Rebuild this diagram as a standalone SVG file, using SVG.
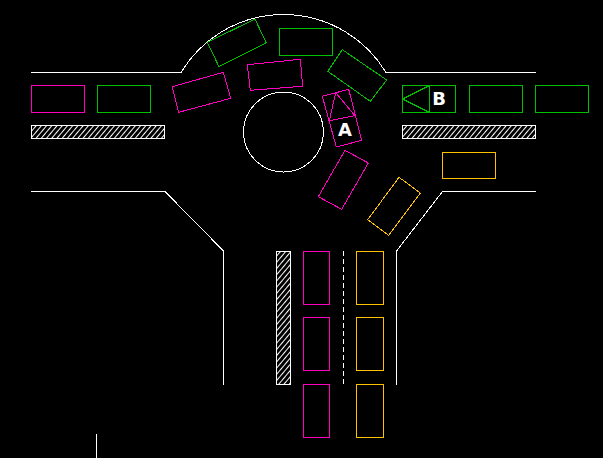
<svg xmlns="http://www.w3.org/2000/svg" width="603" height="458" viewBox="0 0 603 458">
<style>
.road,.m,.g,.o,.h{shape-rendering:crispEdges;stroke-width:1}
.road{fill:none;stroke:#fff}
.m{fill:none;stroke:#ff00c0}
.g{fill:none;stroke:#00c000}
.o{fill:none;stroke:#ffc000}
.h{fill:url(#hatch);stroke:#fff}
.l{font-family:"DejaVu Sans",sans-serif;font-size:18px;font-weight:bold;fill:#fff;text-anchor:middle}
</style>
<defs>
<pattern id="hatch" width="4" height="4" patternUnits="userSpaceOnUse" patternTransform="rotate(40)">
<rect width="4" height="4" fill="#000"/>
<rect width="1.3" height="4" fill="#fff" shape-rendering="crispEdges"/>
</pattern>
</defs>
<rect width="603" height="458" fill="#000"/>
<g id="roads">
<path class="road" d="M31 72.500H181A119.600 119.600 0 0 1 386 72.500H536"/>
<circle class="road" cx="283.500" cy="132" r="40"/>
<path class="road" d="M31 191.500H165L223.500 251V385"/>
<path class="road" d="M536 191.500H442.500L396.500 251V385"/>
<path class="road" d="M343.500 251V385" stroke-dasharray="5 3"/>
<path class="road" d="M96.500 434V458"/>
</g>
<g id="islands">
<rect class="h" x="31.500" y="125.500" width="133" height="13"/>
<rect class="h" x="402.500" y="125.500" width="133" height="13"/>
<rect class="h" x="276.500" y="251.500" width="14" height="133"/>
</g>
<g id="cars-magenta">
<rect class="m" x="31.500" y="85.500" width="53" height="27"/>
<polygon class="m" points="172.300,86.700 223.300,72.300 230.700,98.300 178.700,112.300"/>
<polygon class="m" points="247.300,64.700 300.300,59.300 302.700,86.300 250.300,90.300"/>
<polygon class="m" points="345,150.300 368.300,163 341.700,209.300 318.300,196.700"/>
<rect class="m" x="303.500" y="251.500" width="26" height="53"/>
<rect class="m" x="303.500" y="317.500" width="26" height="53"/>
<rect class="m" x="303.500" y="384.500" width="26" height="53"/>
</g>
<g id="car-A">
<polygon class="m" points="322.300,96.300 348.700,89.300 361.700,140.300 336.300,147"/>
<path class="m" d="M329.300 120.700L355 115.700L335.700 92.700Z"/>
<text class="l" x="345" y="136">A</text>
</g>
<g id="cars-green">
<rect class="g" x="97.500" y="85.500" width="53" height="27"/>
<polygon class="g" points="207.300,42.300 255,19 266.300,43 219,66.700"/>
<rect class="g" x="279.500" y="28.500" width="53" height="27"/>
<polygon class="g" points="342.300,49.700 386.700,80 370.300,101.300 327.700,71.300"/>
<rect class="g" x="469.500" y="85.500" width="53" height="27"/>
<rect class="g" x="535.500" y="85.500" width="53" height="27"/>
</g>
<g id="car-B">
<rect class="g" x="402.500" y="85.500" width="53" height="27"/>
<path class="g" d="M429.500 85.500V112.500L402.500 99Z"/>
<text class="l" x="439" y="105">B</text>
</g>
<g id="cars-orange">
<rect class="o" x="442.500" y="152.500" width="53" height="26"/>
<polygon class="o" points="399,177.300 420.300,193 388.700,235.300 367.700,219.700"/>
<rect class="o" x="356.500" y="251.500" width="27" height="53"/>
<rect class="o" x="356.500" y="317.500" width="27" height="53"/>
<rect class="o" x="356.500" y="384.500" width="27" height="53"/>
</g>
</svg>
